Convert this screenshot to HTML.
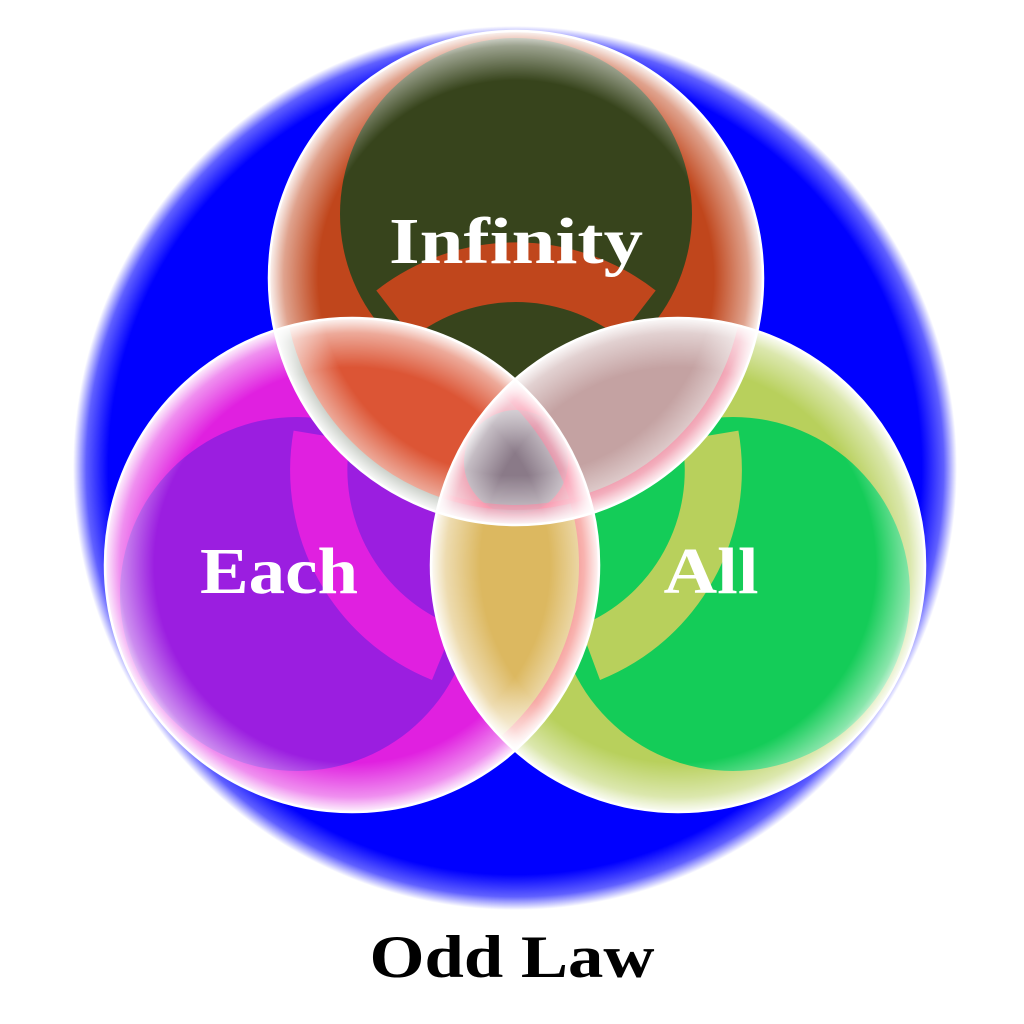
<!DOCTYPE html>
<html><head><meta charset="utf-8"><style>html,body{margin:0;padding:0;background:#fff}svg{display:block}</style></head>
<body>
<svg width="1024" height="1024" viewBox="0 0 1024 1024" xmlns="http://www.w3.org/2000/svg">
<defs>
  <radialGradient id="bg" cx="515" cy="468" r="442" gradientUnits="userSpaceOnUse">
    <stop offset="0.92" stop-color="#0000ff"/>
    <stop offset="0.97" stop-color="#6060ff"/>
    <stop offset="1" stop-color="#ffffff"/>
  </radialGradient>
  <radialGradient id="rim" cx="0.5" cy="0.5" r="0.5">
    <stop offset="0.8" stop-color="#fff" stop-opacity="0"/>
    <stop offset="0.94" stop-color="#fff" stop-opacity="0.5"/>
    <stop offset="1" stop-color="#fff" stop-opacity="0.95"/>
  </radialGradient>
  <clipPath id="cT"><circle cx="516" cy="278" r="247"/></clipPath>
  <clipPath id="cL"><circle cx="352" cy="565" r="247"/></clipPath>
  <clipPath id="cR"><circle cx="678" cy="565" r="247"/></clipPath>
</defs>

<circle cx="515" cy="468" r="442" fill="url(#bg)"/>

<g clip-path="url(#cL)">
  <circle cx="352" cy="565" r="247" fill="#e020e0"/>
  <circle cx="297" cy="594" r="177" fill="#9b1ee0"/>
</g>
<g clip-path="url(#cR)">
  <circle cx="678" cy="565" r="247" fill="#b8d05c"/>
  <circle cx="733" cy="594" r="177" fill="#14cc58"/>
</g>
<g clip-path="url(#cT)">
  <circle cx="516" cy="278" r="247" fill="#c0461c"/>
  <circle cx="516" cy="214" r="176" fill="#37441c"/>
</g>

<g clip-path="url(#cT)">
  <path d="M 376.3 290.5 A 227 227 0 0 1 655.7 290.5 L 619.4 337.6 A 168 168 0 0 0 412.6 337.6 Z" fill="#c0461c"/>
</g>
<g clip-path="url(#cL)">
  <path d="M 293.6 430.6 A 226 226 0 0 0 432 680 L 454 626 A 168 168 0 0 1 350 440 Z" fill="#e020e0"/>
</g>
<g clip-path="url(#cR)">
  <path d="M 738.4 430.6 A 226 226 0 0 1 600 680 L 580 626 A 168 168 0 0 0 682 440 Z" fill="#b8d05c"/>
</g>

<g clip-path="url(#cT)"><circle cx="352" cy="565" r="247" fill="#dc5535"/></g>
<g clip-path="url(#cT)"><circle cx="678" cy="565" r="247" fill="#c4a2a2"/></g>
<g clip-path="url(#cL)"><circle cx="678" cy="565" r="247" fill="#dcb860"/></g>
<g clip-path="url(#cT)"><g clip-path="url(#cL)"><circle cx="678" cy="565" r="247" fill="#e05070"/><circle cx="516" cy="462" r="52" fill="#8a7a88"/></g></g>

<!-- edge tints, clipped inside both circles -->
<g clip-path="url(#cL)"><g clip-path="url(#cT)"><circle cx="516" cy="278" r="247" fill="none" stroke="#70d8d8" stroke-opacity="0.6" stroke-width="30"/></g></g>
<g clip-path="url(#cR)"><g clip-path="url(#cT)"><circle cx="516" cy="278" r="247" fill="none" stroke="#ff3060" stroke-opacity="0.6" stroke-width="40"/></g></g>
<g clip-path="url(#cR)"><g clip-path="url(#cL)"><circle cx="352" cy="565" r="247" fill="none" stroke="#ff3060" stroke-opacity="0.6" stroke-width="40"/></g></g>

<circle cx="516" cy="278" r="247" fill="url(#rim)"/>
<circle cx="352" cy="565" r="247" fill="url(#rim)"/>
<circle cx="678" cy="565" r="247" fill="url(#rim)"/>
<circle cx="516" cy="278" r="247" fill="none" stroke="#fff" stroke-width="2.5"/>
<circle cx="352" cy="565" r="247" fill="none" stroke="#fff" stroke-width="2.5"/>
<circle cx="678" cy="565" r="247" fill="none" stroke="#fff" stroke-width="2.5"/>

<g font-family="'Liberation Serif', serif" fill="#fff" font-weight="bold" text-anchor="middle">
  <text x="516" y="263" font-size="66" textLength="254" lengthAdjust="spacingAndGlyphs">Infinity</text>
  <text x="279" y="593" font-size="66" textLength="158" lengthAdjust="spacingAndGlyphs">Each</text>
  <text x="711" y="593" font-size="66" textLength="95" lengthAdjust="spacingAndGlyphs">All</text>
</g>
<text x="512" y="977" font-family="'Liberation Serif', serif" font-weight="bold" font-size="60" text-anchor="middle" fill="#000" textLength="285" lengthAdjust="spacingAndGlyphs">Odd Law</text>
</svg>
</body></html>
